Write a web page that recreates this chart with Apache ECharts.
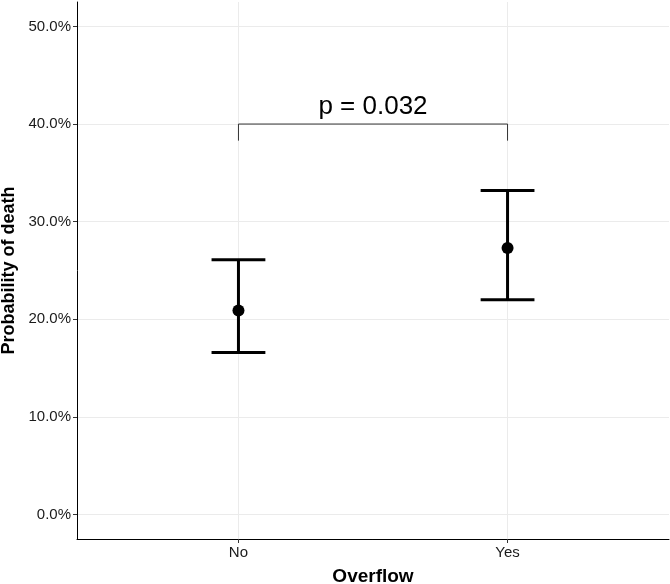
<!DOCTYPE html>
<html>
<head>
<meta charset="utf-8">
<script src="https://cdn.jsdelivr.net/npm/echarts@6/dist/echarts.min.js"></script>
<style>
  html, body { margin: 0; padding: 0; background: #fff; }
  #chart { width: 670px; height: 584px; }
</style>
</head>
<body>
<div id="chart"></div>
<script>
// groups and estimates
var groups = ['No', 'Yes']
var estimate = [0.209, 0.273]
var lower = [0.166, 0.220]
var upper = [0.261, 0.332]
var yTicks = [0, 0.1, 0.2, 0.3, 0.4, 0.5]
var pLabel = 'p = 0.032'
var bracketTop = 0.40
var bracketFoot = 0.383

var chart = echarts.init(document.getElementById('chart'))

var pointData = groups.map(function (g, i) { return [i, estimate[i]] })
var barData = groups.map(function (g, i) { return [i, lower[i], upper[i]] })
var bracketData = [[0, bracketFoot], [0, bracketTop], [1, bracketTop], [1, bracketFoot]]

var font = 'Liberation Sans, Arial, sans-serif'

chart.setOption({
    animation: false,
    backgroundColor: '#fff',
    grid: { left: 77, right: 1, top: 2, bottom: 45, outerBoundsMode: 'none', containLabel: false },
    xAxis: {
        type: 'value',
        min: -0.6,
        max: 1.6,
        name: 'Overflow',
        nameLocation: 'middle',
        nameGap: 28,
        nameTextStyle: { fontFamily: font, fontSize: 19, fontWeight: 'bold', color: '#000' },
        axisLine: { onZero: false, lineStyle: { color: '#000', width: 1 } },
        axisTick: { customValues: [0, 1], length: 4, lineStyle: { color: '#333' } },
        axisLabel: {
            customValues: [0, 1],
            fontFamily: font, fontSize: 15, color: '#1a1a1a', margin: 6,
            formatter: function (v) { return groups[Math.round(v)] }
        },
        splitLine: { show: true, lineStyle: { color: '#ebebeb', width: 1 } }
    },
    yAxis: {
        type: 'value',
        min: -0.025,
        max: 0.525,
        name: 'Probability of death',
        nameLocation: 'middle',
        nameGap: 55,
        nameTextStyle: { fontFamily: font, fontSize: 18, fontWeight: 'bold', color: '#000' },
        axisLine: { show: true, onZero: false, lineStyle: { color: '#000', width: 1 } },
        axisTick: { show: true, customValues: yTicks, length: 4, lineStyle: { color: '#333' } },
        axisLabel: {
            customValues: yTicks,
            fontFamily: font, fontSize: 15, color: '#1a1a1a', margin: 6,
            formatter: function (v) { return (v * 100).toFixed(1) + '%' }
        },
        splitLine: { show: true, lineStyle: { color: '#ebebeb', width: 1 } }
    },
    series: [
        {
            type: 'custom',
            data: barData,
            renderItem: function (params, api) {
                var x = api.value(0)
                var lo = api.coord([x, api.value(1)])
                var hi = api.coord([x, api.value(2)])
                var half = api.size([0.1, 0])[0]
                var style = { stroke: '#000', lineWidth: 3 }
                return {
                    type: 'group',
                    children: [
                        { type: 'line', shape: { x1: lo[0], y1: lo[1], x2: hi[0], y2: hi[1] }, style: style },
                        { type: 'line', shape: { x1: lo[0] - half, y1: lo[1], x2: lo[0] + half, y2: lo[1] }, style: style },
                        { type: 'line', shape: { x1: hi[0] - half, y1: hi[1], x2: hi[0] + half, y2: hi[1] }, style: style }
                    ]
                }
            },
            z: 2
        },
        {
            type: 'scatter',
            data: pointData,
            symbol: 'circle',
            symbolSize: 12,
            itemStyle: { color: '#000', opacity: 1 },
            z: 3
        },
        {
            type: 'line',
            data: bracketData,
            symbol: 'none',
            lineStyle: { color: '#333', width: 1 },
            z: 2
        },
        {
            type: 'custom',
            data: [[0.5, bracketTop]],
            renderItem: function (params, api) {
                var p = api.coord([api.value(0), api.value(1)])
                return {
                    type: 'text',
                    x: p[0],
                    y: p[1] - 4,
                    style: {
                        text: pLabel,
                        fontFamily: font,
                        fontSize: 26,
                        fill: '#000',
                        align: 'center',
                        verticalAlign: 'bottom'
                    }
                }
            },
            z: 4
        }
    ]
})
</script>
</body>
</html>
